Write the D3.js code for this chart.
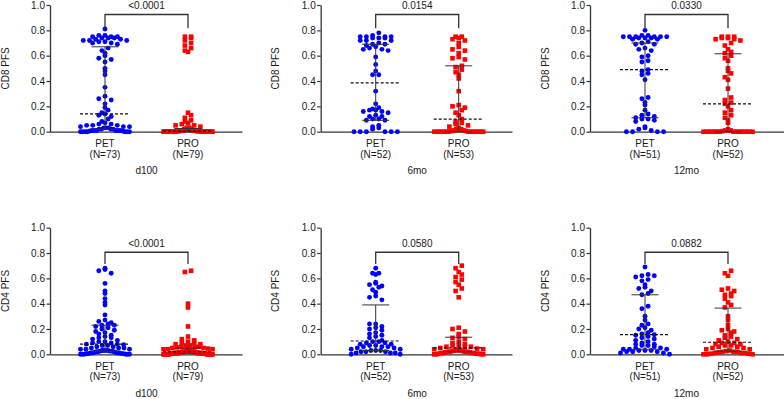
<!DOCTYPE html>
<html lang="en">
<head>
<meta charset="UTF-8">
<title>PFS scatter</title>
<script src="https://cdn.jsdelivr.net/npm/d3@7"></script>
<style>
  body { margin: 0; background: #fff; }
  svg text { font-family: "Liberation Sans", Arial, sans-serif; font-size: 10px; fill: #1a1a1a; }
</style>
</head>
<body>
<script>
// groups and labels
var groups = ["PET", "PRO"];
var timepoints = ["d100", "6mo", "12mo"];
var yTitles = ["CD8 PFS", "CD4 PFS"];
var yTicks = [0, 0.2, 0.4, 0.6, 0.8, 1.0];
var nTop = [[73, 79], [52, 53], [51, 52]];
var nBottom = [[73, 79], [52, 53], [51, 52]];
var pTop = ["<0.0001", "0.0154", "0.0330"];
var pBottom = ["<0.0001", "0.0580", "0.0882"];

// CD8 values
var cd8D100Pet = [0.81, 0.76, 0.76, 0.75, 0.75, 0.75, 0.74, 0.74, 0.74, 0.73, 0.73, 0.72, 0.72, 0.72, 0.71, 0.71, 0.70, 0.70, 0.69,
  0.66, 0.64, 0.62, 0.60, 0.58, 0.57, 0.55, 0.50, 0.48, 0.45, 0.35, 0.28, 0.26, 0.25, 0.22,
  0.19, 0.17, 0.15, 0.14,
  0.13, 0.12, 0.10, 0.08, 0.07, 0.06, 0.06, 0.05, 0.05, 0.05, 0.04, 0.04, 0.04, 0.03, 0.03, 0.03, 0.02, 0.02, 0.02, 0.02,
  0.01, 0.01, 0.01, 0.01, 0.01, 0.01, 0.005, 0.005, 0, 0, 0, 0, 0, 0, 0];
var cd8D100Pro = [0.75, 0.75, 0.74, 0.72, 0.70, 0.68, 0.66, 0.64, 0.63,
  0.15, 0.13, 0.11, 0.09, 0.08, 0.07, 0.06, 0.05, 0.05, 0.04,
  0.03, 0.03, 0.03, 0.03, 0.02, 0.02, 0.02, 0.02, 0.02, 0.02,
  0.01, 0.01, 0.01, 0.01, 0.01, 0.01, 0.01, 0.01, 0.01, 0.01,
  0.005, 0.005, 0.005, 0.005, 0.005, 0.005, 0.005, 0.005, 0.005, 0.005,
  0, 0, 0, 0, 0, 0, 0, 0, 0, 0, 0, 0, 0, 0, 0, 0, 0, 0, 0, 0, 0, 0, 0, 0, 0, 0, 0, 0, 0, 0];
var cd86moPet = [0.78, 0.76, 0.75, 0.75, 0.75, 0.75, 0.74, 0.74, 0.74, 0.72, 0.72, 0.72, 0.70, 0.69, 0.69, 0.68, 0.67, 0.66, 0.65, 0.65, 0.64,
  0.59, 0.53, 0.48, 0.45, 0.45,
  0.32, 0.22, 0.19, 0.18, 0.17, 0.17, 0.16, 0.16, 0.15, 0.13, 0.12, 0.12, 0.10, 0.10, 0.09, 0.09,
  0.05, 0.04, 0.03, 0.02,
  0, 0, 0, 0, 0, 0];
var cd86moPro = [0.75, 0.75, 0.74, 0.73, 0.72, 0.70, 0.67, 0.65, 0.64, 0.62, 0.59, 0.58, 0.57,
  0.52, 0.51, 0.49, 0.47, 0.45, 0.42,
  0.32,
  0.21, 0.20, 0.19, 0.17, 0.15, 0.13, 0.10,
  0.08, 0.07, 0.06, 0.05, 0.04, 0.03, 0.02, 0.02, 0.01, 0.01, 0.005, 0.005,
  0, 0, 0, 0, 0, 0, 0, 0, 0, 0, 0, 0, 0, 0];
var cd812moPet = [0.80, 0.76, 0.76, 0.75, 0.75, 0.75, 0.75, 0.75, 0.75, 0.74, 0.74, 0.74, 0.73, 0.73,
  0.71, 0.70, 0.69, 0.69,
  0.66, 0.65, 0.64,
  0.60, 0.59,
  0.56, 0.55,
  0.49, 0.48, 0.46, 0.45, 0.41,
  0.27, 0.26, 0.23, 0.21,
  0.17, 0.14, 0.13, 0.12, 0.11, 0.10, 0.10, 0.09, 0.08,
  0.04, 0.03, 0.02, 0.01, 0, 0, 0, 0];
var cd812moPro = [0.75, 0.75, 0.75, 0.74, 0.74, 0.73, 0.73, 0.72,
  0.70, 0.68, 0.65, 0.63, 0.62,
  0.60, 0.58, 0.56,
  0.50, 0.48, 0.46, 0.43, 0.41,
  0.34,
  0.27, 0.25, 0.23, 0.22, 0.20, 0.17, 0.15, 0.13, 0.11, 0.09, 0.07,
  0.02, 0.01, 0.01, 0.005,
  0, 0, 0, 0, 0, 0, 0, 0, 0, 0, 0, 0, 0, 0, 0];

// CD4 values
var cd4D100Pet = [0.68, 0.67, 0.66, 0.64, 0.56, 0.50, 0.48, 0.44, 0.41, 0.39, 0.31, 0.27, 0.26, 0.25, 0.24, 0.23, 0.23, 0.22,
  0.21, 0.20, 0.19, 0.18, 0.17, 0.16, 0.15, 0.14, 0.13, 0.13, 0.12, 0.11, 0.10, 0.10, 0.09, 0.09, 0.08, 0.08,
  0.075, 0.07, 0.07, 0.06, 0.06, 0.05, 0.05, 0.05, 0.04, 0.04, 0.04, 0.03, 0.03, 0.03, 0.03, 0.025, 0.025, 0.025,
  0.02, 0.02, 0.02, 0.015, 0.015, 0.01, 0.01, 0.01, 0.01, 0.005, 0.005, 0.005, 0.005, 0, 0, 0, 0, 0, 0];
var cd4D100Pro = [0.66, 0.65, 0.40, 0.37, 0.22, 0.14, 0.12, 0.11, 0.10, 0.09, 0.09, 0.08, 0.08, 0.07, 0.07, 0.06, 0.06, 0.06, 0.055, 0.05,
  0.05, 0.045, 0.04, 0.04, 0.04, 0.035, 0.035, 0.03, 0.03, 0.03, 0.03, 0.025, 0.025, 0.025, 0.02, 0.02, 0.02, 0.02, 0.02, 0.02,
  0.015, 0.015, 0.015, 0.015, 0.015,
  0.01, 0.01, 0.01, 0.01, 0.01, 0.01, 0.01, 0.01, 0.01, 0.01,
  0.005, 0.005, 0.005, 0.005, 0.005, 0.005, 0.005, 0.005, 0.005, 0.005,
  0, 0, 0, 0, 0, 0, 0, 0, 0, 0, 0, 0, 0, 0];
var cd46moPet = [0.68, 0.64, 0.64, 0.63, 0.57, 0.56, 0.55, 0.54, 0.53, 0.51, 0.49, 0.46, 0.45, 0.43,
  0.24, 0.24, 0.22, 0.21, 0.20, 0.19, 0.17, 0.16, 0.15, 0.14, 0.13, 0.11,
  0.10, 0.10, 0.09, 0.09, 0.08, 0.08, 0.07, 0.07, 0.06, 0.06, 0.06, 0.05, 0.05, 0.04, 0.04, 0.03, 0.03, 0.03,
  0.02, 0.02, 0.02, 0.01, 0.01, 0.01, 0, 0];
var cd46moPro = [0.70, 0.68, 0.65, 0.63, 0.61, 0.59, 0.57, 0.55, 0.52, 0.50, 0.45,
  0.21, 0.20, 0.18, 0.16, 0.14,
  0.13, 0.12, 0.10, 0.09, 0.08, 0.07, 0.07, 0.06, 0.06, 0.06, 0.05,
  0.045, 0.04, 0.04, 0.035, 0.03, 0.03, 0.03, 0.025, 0.025, 0.02, 0.02, 0.02, 0.02,
  0.015, 0.015, 0.01, 0.01, 0.01, 0.01, 0.005, 0.005, 0.005, 0, 0, 0, 0];
var cd412moPet = [0.69, 0.63, 0.62, 0.62, 0.61, 0.59, 0.58, 0.55, 0.53, 0.52, 0.50, 0.48, 0.47,
  0.38, 0.36, 0.30,
  0.27, 0.24, 0.23, 0.21, 0.20, 0.19, 0.17, 0.16, 0.155, 0.15,
  0.14, 0.13, 0.12, 0.11, 0.10, 0.09, 0.08, 0.08, 0.07, 0.07, 0.06, 0.05, 0.05, 0.04, 0.04, 0.04,
  0.03, 0.03, 0.03, 0.02, 0.02, 0.02, 0.01, 0.01, 0];
var cd412moPro = [0.66, 0.64, 0.62, 0.52, 0.51, 0.50, 0.48, 0.47, 0.46, 0.44, 0.41, 0.39, 0.37,
  0.30, 0.27, 0.23, 0.20, 0.19, 0.18, 0.17, 0.15, 0.14, 0.13, 0.12, 0.11, 0.10,
  0.09, 0.09, 0.08, 0.08, 0.07, 0.07, 0.06, 0.06, 0.05, 0.05, 0.04, 0.04, 0.03, 0.025,
  0.02, 0.02, 0.02, 0.015, 0.01, 0.01, 0.01, 0.005, 0.005, 0, 0, 0];

// [q1, median, q3] as drawn
var cd8Stats = [
  [[0.02, 0.14, 0.67], [0.0, 0.005, 0.025]],
  [[0.09, 0.385, 0.69], [0.0, 0.10, 0.52]],
  [[0.11, 0.49, 0.70], [0.0, 0.22, 0.615]]
];
var cd4Stats = [
  [[0.025, 0.08, 0.23], [0.005, 0.02, 0.05]],
  [[0.03, 0.105, 0.39], [0.02, 0.05, 0.135]],
  [[0.04, 0.155, 0.47], [0.025, 0.095, 0.365]]
];

// bracket levels per row
var bracketTop = [0.925, 0.806];
var bracketFoot = [0.816, 0.713];

var width = 784, height = 399;
var rowZero = [131.7, 354.3], rowOne = [5, 227.7];
var colLeft = [50, 320.7, 590], colRight = [242, 512, 784];

var panels = [
  { row: 0, col: 0, vals: [cd8D100Pet, cd8D100Pro], stats: cd8Stats[0], n: nTop[0], p: pTop[0] },
  { row: 0, col: 1, vals: [cd86moPet, cd86moPro], stats: cd8Stats[1], n: nTop[1], p: pTop[1] },
  { row: 0, col: 2, vals: [cd812moPet, cd812moPro], stats: cd8Stats[2], n: nTop[2], p: pTop[2] },
  { row: 1, col: 0, vals: [cd4D100Pet, cd4D100Pro], stats: cd4Stats[0], n: nBottom[0], p: pBottom[0] },
  { row: 1, col: 1, vals: [cd46moPet, cd46moPro], stats: cd4Stats[1], n: nBottom[1], p: pBottom[1] },
  { row: 1, col: 2, vals: [cd412moPet, cd412moPro], stats: cd4Stats[2], n: nBottom[2], p: pBottom[2] }
];

var svg = d3.select("body").append("svg").attr("width", width).attr("height", height);

// spread points of similar value side by side (GraphPad style)
function swarm(values, y, binPx, step, maxHalf) {
  var pts = values.map(function (v) { return { v: v, dx: 0 }; });
  var bins = d3.group(pts, function (d) { return Math.floor((y(0) - y(d.v)) / binPx); });
  bins.forEach(function (b) {
    b.sort(function (a, c) { return c.v - a.v; });
    var n = b.length;
    var s = n > 1 ? Math.min(step, 2 * maxHalf / (n - 1)) : 0;
    b.forEach(function (d, k) {
      var slot = k === 0 ? 0 : (k % 2 ? -Math.ceil(k / 2) : Math.ceil(k / 2));
      d.dx = (slot + (n % 2 === 0 ? 0.5 : 0)) * s;
    });
  });
  return pts;
}

panels.forEach(function (p) {
  var left = colLeft[p.col];
  var y = d3.scaleLinear().domain([0, 1]).range([rowZero[p.row], rowOne[p.row]]);
  var x = d3.scalePoint().domain(groups).range([left + 55, left + 138]);
  var g = svg.append("g");

  // axes
  var ya = g.append("g").attr("transform", "translate(" + left + ",0)")
    .call(d3.axisLeft(y).tickValues(yTicks).tickFormat(d3.format(".1f"))
      .tickSize(3.5).tickSizeOuter(0).tickPadding(1.5));
  ya.select(".domain").attr("stroke", "#333").attr("stroke-width", 1.3);
  ya.selectAll(".tick line").attr("stroke", "#333").attr("stroke-width", 1.2);
  ya.selectAll(".tick text").attr("fill", "#1a1a1a").style("font-size", "10px")
    .style("font-family", "'Liberation Sans', Arial, sans-serif");

  var xa = g.append("g").attr("transform", "translate(0," + y(0) + ")")
    .call(d3.axisBottom(d3.scaleLinear().range([left, colRight[p.col]])).tickValues([]).tickSizeOuter(0));
  xa.select(".domain").attr("stroke", "#333").attr("stroke-width", 1.3);

  // y title
  g.append("text")
    .attr("transform", "translate(" + (left - 45) + "," + (y(0.5)) + ") rotate(-90)")
    .attr("text-anchor", "middle").attr("dy", "0.35em")
    .text(yTitles[p.row]);

  // points
  groups.forEach(function (grp, gi) {
    var pts = swarm(p.vals[gi], y, 4.5, 6.2, 24.5);
    if (gi === 0) {
      g.append("g").selectAll("circle").data(pts).enter().append("circle")
        .attr("cx", function (d) { return x(grp) + d.dx; })
        .attr("cy", function (d) { return y(d.v); })
        .attr("r", 2.45)
        .attr("fill", "#0000ff");
    } else {
      g.append("g").selectAll("rect").data(pts).enter().append("rect")
        .attr("x", function (d) { return x(grp) + d.dx - 2.3; })
        .attr("y", function (d) { return y(d.v) - 2.3; })
        .attr("width", 4.6).attr("height", 4.6)
        .attr("fill", "#ff0000");
    }

    // median + interquartile range
    var st = p.stats[gi];
    var cx = x(grp);
    g.append("line").attr("x1", cx).attr("x2", cx).attr("y1", y(st[0])).attr("y2", y(st[2]))
      .attr("stroke", "#333").attr("stroke-width", 1);
    [st[0], st[2]].forEach(function (q) {
      g.append("line").attr("x1", cx - 13.5).attr("x2", cx + 13.5).attr("y1", y(q)).attr("y2", y(q))
        .attr("stroke", "#333").attr("stroke-width", 1);
    });
    g.append("line").attr("x1", cx - 25).attr("x2", cx + 25).attr("y1", y(st[1])).attr("y2", y(st[1]))
      .attr("stroke", "#111").attr("stroke-width", 1.2).attr("stroke-dasharray", "3,2");

    // group labels
    g.append("text").attr("x", cx).attr("y", y(0) + 15.3).attr("text-anchor", "middle").text(grp);
    g.append("text").attr("x", cx).attr("y", y(0) + 26).attr("text-anchor", "middle").text("(N=" + p.n[gi] + ")");
  });

  // timepoint label
  g.append("text").attr("x", (x("PET") + x("PRO")) / 2).attr("y", y(0) + 42.3)
    .attr("text-anchor", "middle").text(timepoints[p.col]);

  // significance bracket
  var top = y(bracketTop[p.row]), foot = y(bracketFoot[p.row]);
  g.append("path")
    .attr("d", "M" + x("PET") + "," + foot + "V" + top + "H" + x("PRO") + "V" + foot)
    .attr("fill", "none").attr("stroke", "#333").attr("stroke-width", 1.3);
  g.append("text").attr("x", (x("PET") + x("PRO")) / 2).attr("y", top - 5.5)
    .attr("text-anchor", "middle").text(p.p);
});
</script>
</body>
</html>
